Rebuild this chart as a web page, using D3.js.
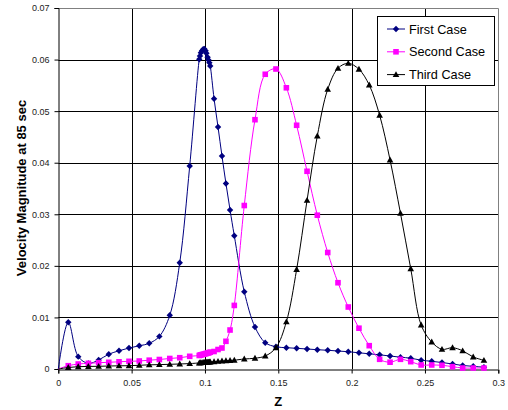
<!DOCTYPE html>
<html>
<head>
<meta charset="utf-8">
<script src="https://cdn.jsdelivr.net/npm/d3@7/dist/d3.min.js"></script>
<style>
  html, body { margin: 0; padding: 0; background: #fff; }
  svg { display: block; font-family: Arial, "Liberation Sans", sans-serif; }
</style>
</head>
<body>
<svg id="chart" width="508" height="410"></svg>
<script>
// Axial positions (Z) shared by all three runs
const zValues = [
  0, 0.0068, 0.0136, 0.0205, 0.0275, 0.0344, 0.0414, 0.0482, 0.0552, 0.0620,
  0.0689, 0.0760, 0.0828, 0.0896,
  0.0961, 0.0966, 0.0972, 0.0980, 0.0988, 0.0996, 0.1004, 0.1010, 0.1018, 0.1024, 0.1030, 0.1036,
  0.1062, 0.1089, 0.1116, 0.1143, 0.1171, 0.1200, 0.1268, 0.1341, 0.1411, 0.1484,
  0.1555, 0.1625, 0.1696, 0.1766, 0.1837, 0.1907, 0.1977, 0.2050, 0.2120, 0.2191,
  0.2262, 0.2333, 0.2403, 0.2474, 0.2546, 0.2616, 0.2688, 0.2757, 0.2829, 0.2902
];

// Velocity magnitude at 85 sec for each case
const firstCase = [
  0, 0.00906, 0.00239, 0.00110, 0.00175, 0.00287, 0.00353, 0.00407, 0.00450, 0.00498,
  0.00632, 0.01041, 0.02061, 0.03937,
  0.06006, 0.06070, 0.06133, 0.06172, 0.06199, 0.06205, 0.06172, 0.06122, 0.06044, 0.05992, 0.05940, 0.05876,
  0.05241, 0.04693, 0.04130, 0.03597, 0.03083, 0.02585, 0.01499, 0.00814, 0.00510, 0.00432,
  0.00413, 0.00401, 0.00388, 0.00374, 0.00363, 0.00349, 0.00335, 0.00314, 0.00295, 0.00275,
  0.00252, 0.00229, 0.00209, 0.00171, 0.00149, 0.00126, 0.00097, 0.00068, 0.00052, 0.00035
];
const secondCase = [
  0, 0.00064, 0.00097, 0.00110, 0.00122, 0.00130, 0.00140, 0.00149, 0.00155, 0.00171,
  0.00184, 0.00204, 0.00219, 0.00246,
  0.00262, 0.00267, 0.00273, 0.00279, 0.00285, 0.00291, 0.00297, 0.00302, 0.00308, 0.00314, 0.00320, 0.00326,
  0.00339, 0.00378, 0.00407, 0.00537, 0.00756, 0.01233, 0.03170, 0.04834, 0.05715, 0.05817,
  0.05453, 0.04726, 0.03834, 0.02982, 0.02259, 0.01673, 0.01202, 0.00791, 0.00452, 0.00188,
  0.00132, 0.00188, 0.00142, 0.00078, 0.00078, 0.00072, 0.00045, 0.00019, 0.00019, 0.00019
];
const thirdCase = [
  0, 0.00029, 0.00045, 0.00050, 0.00052, 0.00058, 0.00062, 0.00064, 0.00072, 0.00081,
  0.00085, 0.00091, 0.00097, 0.00105,
  0.00118, 0.00120, 0.00122, 0.00124, 0.00126, 0.00128, 0.00130, 0.00132, 0.00132, 0.00134, 0.00136, 0.00138,
  0.00143, 0.00149, 0.00155, 0.00161, 0.00167, 0.00171, 0.00194, 0.00209, 0.00252, 0.00413,
  0.00915, 0.01929, 0.03271, 0.04518, 0.05424, 0.05831, 0.05928, 0.05812, 0.05507, 0.04920,
  0.04053, 0.03019, 0.01945, 0.00853, 0.00524, 0.00381, 0.00413, 0.00353, 0.00233, 0.00169
];

const seriesNames = ["First Case", "Second Case", "Third Case"];
const xTicks = [0, 0.05, 0.1, 0.15, 0.2, 0.25, 0.3];
const yTicks = [0, 0.01, 0.02, 0.03, 0.04, 0.05, 0.06, 0.07];

const series = [
  { name: seriesNames[0], values: firstCase,  color: "#000080", marker: "diamond" },
  { name: seriesNames[1], values: secondCase, color: "#FF00FF", marker: "square" },
  { name: seriesNames[2], values: thirdCase,  color: "#000000", marker: "triangle" }
];

const svg = d3.select("#chart");
const plot = { left: 58.3, right: 498.3, top: 8, bottom: 369 };

const x = d3.scaleLinear().domain([0, 0.3]).range([plot.left, plot.right]);
const y = d3.scaleLinear().domain([0, 0.07]).range([plot.bottom, plot.top]);

// Gridlines
const grid = svg.append("g");
grid.selectAll("line.v").data(xTicks.filter(t => t > 0 && t < 0.3)).join("line")
  .attr("x1", d => Math.round(x(d)) + 0.5).attr("x2", d => Math.round(x(d)) + 0.5)
  .attr("y1", plot.top).attr("y2", plot.bottom)
  .attr("stroke", "#000").attr("stroke-width", 1);
grid.selectAll("line.h").data(yTicks.filter(t => t > 0 && t < 0.07)).join("line")
  .attr("x1", plot.left).attr("x2", plot.right)
  .attr("y1", d => Math.round(y(d)) + 0.5).attr("y2", d => Math.round(y(d)) + 0.5)
  .attr("stroke", "#000").attr("stroke-width", 1);

// Plot-area border on top and right
svg.append("path")
  .attr("d", `M${plot.left},${Math.round(plot.top) + 0.5}H${Math.round(plot.right) + 0.5}V${plot.bottom}`)
  .attr("fill", "none").attr("stroke", "#808080").attr("stroke-width", 1);

// Axes
const xAxis = d3.axisBottom(x).tickValues(xTicks).tickSize(4).tickPadding(6)
  .tickFormat(d => d === 0 ? "0" : String(+d.toFixed(2)));
const yAxis = d3.axisLeft(y).tickValues(yTicks).tickSize(4).tickPadding(5)
  .tickFormat(d => d === 0 ? "0" : String(+d.toFixed(2)));

const gx = svg.append("g").attr("transform", `translate(0,${Math.round(plot.bottom) + 0.5})`).call(xAxis);
const gy = svg.append("g").attr("transform", `translate(${Math.round(plot.left) + 0.5},0)`).call(yAxis);
[gx, gy].forEach(g => {
  g.select(".domain").attr("stroke", "#000");
  g.selectAll(".tick line").attr("stroke", "#000");
  g.selectAll(".tick text").attr("font-size", "9px").attr("fill", "#222")
    .attr("font-family", "Arial, 'Liberation Sans', sans-serif");
});

// Axis titles
svg.append("text")
  .attr("x", x(0.15)).attr("y", 406)
  .attr("text-anchor", "middle").attr("font-weight", "bold").attr("font-size", "13px")
  .text("Z");
svg.append("text")
  .attr("transform", `translate(26,188) rotate(-90)`)
  .attr("text-anchor", "middle").attr("font-weight", "bold").attr("font-size", "13px")
  .text("Velocity Magnitude at 85 sec");

// Marker shapes
function markerPath(type) {
  if (type === "diamond") return "M0,-3.2L3.2,0L0,3.2L-3.2,0Z";
  if (type === "square") return "M-2.8,-2.8H2.8V2.8H-2.8Z";
  return "M0,-3.4L3.3,2.5H-3.3Z";
}

const line = d3.line()
  .x(d => x(d[0])).y(d => y(d[1]))
  .curve(d3.curveCatmullRom.alpha(0.5));

series.forEach(s => {
  const pts = zValues.map((z, i) => [z, s.values[i]]);
  const g = svg.append("g");
  g.append("path").datum(pts)
    .attr("d", line).attr("fill", "none")
    .attr("stroke", s.color).attr("stroke-width", 1);
  g.selectAll("path.m").data(pts.slice(1)).join("path")
    .attr("transform", d => `translate(${x(d[0])},${y(d[1])})`)
    .attr("d", markerPath(s.marker)).attr("fill", s.color);
});

// Legend
const legend = svg.append("g");
legend.append("rect")
  .attr("x", 377.5).attr("y", 16.5).attr("width", 117).attr("height", 69)
  .attr("fill", "#fff").attr("stroke", "#000").attr("stroke-width", 1);
series.forEach((s, i) => {
  const cy = 29 + i * 22.8;
  legend.append("line").attr("x1", 387).attr("x2", 405).attr("y1", cy).attr("y2", cy)
    .attr("stroke", s.color).attr("stroke-width", 1);
  legend.append("path").attr("transform", `translate(396,${cy})`)
    .attr("d", markerPath(s.marker)).attr("fill", s.color);
  legend.append("text").attr("x", 409).attr("y", cy).attr("dy", "0.36em")
    .attr("font-size", "12.7px").attr("fill", "#000").text(s.name);
});
</script>
</body>
</html>
